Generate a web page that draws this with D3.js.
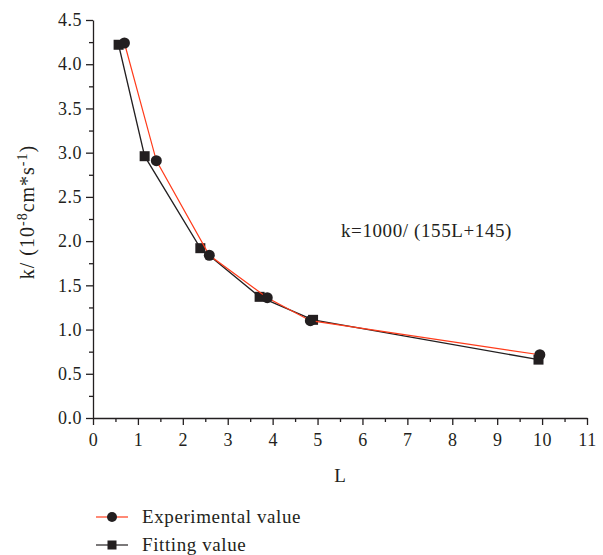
<!DOCTYPE html>
<html>
<head>
<meta charset="utf-8">
<script src="https://cdn.jsdelivr.net/npm/d3@7"></script>
<style>
  body { margin: 0; background: #fff; }
  text { font-family: "Liberation Serif", "DejaVu Serif", serif; fill: #231f20; }
</style>
</head>
<body>
<div id="chart"></div>
<script>
// data
const expL = [0.70, 1.41, 2.59, 3.88, 4.84, 9.95];
const expK = [4.24, 2.91, 1.84, 1.36, 1.10, 0.715];
const fitL = [0.57, 1.15, 2.39, 3.71, 4.90, 9.92];
const fitK = [4.22, 2.96, 1.92, 1.37, 1.11, 0.66];
const xTicks = [0, 1, 2, 3, 4, 5, 6, 7, 8, 9, 10, 11];
const yTicks = [0, 0.5, 1.0, 1.5, 2.0, 2.5, 3.0, 3.5, 4.0, 4.5];
const seriesNames = ["Experimental value", "Fitting value"];

const width = 603, height = 555;
const margin = {top: 20, left: 93, right: 16, bottom: 137};
const ink = "#231f20", red = "#ff3b1a";

const svg = d3.select("#chart").append("svg")
    .attr("width", width)
    .attr("height", height);

const x = d3.scaleLinear().domain([0, 11]).range([margin.left, width - margin.right]);
const y = d3.scaleLinear().domain([0, 4.5]).range([height - margin.bottom, margin.top]);

// minor ticks first (short), then major axes
svg.append("g")
    .attr("transform", `translate(0, ${y(0)})`)
    .call(d3.axisBottom(x).tickValues(d3.range(0.5, 11, 1)).tickSize(4).tickFormat(""))
    .call(g => g.select(".domain").remove());
svg.append("g")
    .attr("transform", `translate(${x(0)}, 0)`)
    .call(d3.axisLeft(y).tickValues(d3.range(0.25, 4.5, 0.5)).tickSize(4).tickFormat(""))
    .call(g => g.select(".domain").remove());

const xAxis = svg.append("g")
    .attr("transform", `translate(0, ${y(0)})`)
    .call(d3.axisBottom(x).tickValues(xTicks).tickSize(7).tickSizeOuter(0).tickPadding(8).tickFormat(d3.format("d")));
const yAxis = svg.append("g")
    .attr("transform", `translate(${x(0)}, 0)`)
    .call(d3.axisLeft(y).tickValues(yTicks).tickSize(7).tickSizeOuter(0).tickPadding(4).tickFormat(d3.format(".1f")));

svg.selectAll(".tick line").attr("stroke", ink).attr("stroke-width", 1.3);
svg.selectAll(".domain").attr("stroke", ink).attr("stroke-width", 1.3);
svg.selectAll(".tick text")
    .attr("font-family", "Liberation Serif, serif")
    .attr("font-size", 18)
    .attr("letter-spacing", 0.5)
    .attr("fill", ink);

// axis titles
svg.append("text")
    .attr("x", x(5.5))
    .attr("y", 482)
    .attr("text-anchor", "middle")
    .attr("font-size", 19)
    .text("L");

const yTitle = svg.append("text")
    .attr("transform", `translate(34, 212) rotate(-90)`)
    .attr("text-anchor", "middle")
    .attr("font-size", 20)
    .attr("letter-spacing", 1);
yTitle.append("tspan").text("k/ (10");
yTitle.append("tspan").attr("dy", -7).attr("font-size", 14).text("-8");
yTitle.append("tspan").attr("dy", 7).text("cm*s");
yTitle.append("tspan").attr("dy", -7).attr("font-size", 14).text("-1");
yTitle.append("tspan").attr("dy", 7).text(")");

// annotation
svg.append("text")
    .attr("x", 341)
    .attr("y", 237)
    .attr("font-size", 19)
    .attr("letter-spacing", 0.6)
    .text("k=1000/ (155L+145)");

const line = d3.line().x(d => x(d[0])).y(d => y(d[1]));
const fitData = fitL.map((v, i) => [v, fitK[i]]);
const expData = expL.map((v, i) => [v, expK[i]]);

// fitting value: black line + squares
svg.append("path")
    .datum(fitData)
    .attr("d", line)
    .attr("fill", "none")
    .attr("stroke", ink)
    .attr("stroke-width", 1.3);
svg.selectAll(".sq")
    .data(fitData)
    .enter().append("rect")
    .attr("class", "sq")
    .attr("x", d => x(d[0]) - 5)
    .attr("y", d => y(d[1]) - 5)
    .attr("width", 10)
    .attr("height", 10)
    .attr("fill", ink);

// experimental value: red line + circles
svg.append("path")
    .datum(expData)
    .attr("d", line)
    .attr("fill", "none")
    .attr("stroke", red)
    .attr("stroke-width", 1.2);
svg.selectAll(".dot")
    .data(expData)
    .enter().append("circle")
    .attr("class", "dot")
    .attr("cx", d => x(d[0]))
    .attr("cy", d => y(d[1]))
    .attr("r", 5.5)
    .attr("fill", ink);

// legend
const legend = svg.append("g").attr("transform", "translate(96, 0)");
const legendRows = [
    {name: seriesNames[0], color: red, shape: "circle", yy: 517},
    {name: seriesNames[1], color: ink, shape: "square", yy: 545}
];
legendRows.forEach(r => {
    legend.append("line")
        .attr("x1", 0).attr("x2", 32)
        .attr("y1", r.yy).attr("y2", r.yy)
        .attr("stroke", r.color).attr("stroke-width", 1.2);
    if (r.shape === "circle") {
        legend.append("circle").attr("cx", 16).attr("cy", r.yy).attr("r", 5).attr("fill", ink);
    } else {
        legend.append("rect").attr("x", 11.5).attr("y", r.yy - 4.5).attr("width", 9).attr("height", 9).attr("fill", ink);
    }
    legend.append("text")
        .attr("x", 46)
        .attr("y", r.yy + 6)
        .attr("font-size", 19)
        .attr("letter-spacing", 0.6)
        .text(r.name);
});
</script>
</body>
</html>
